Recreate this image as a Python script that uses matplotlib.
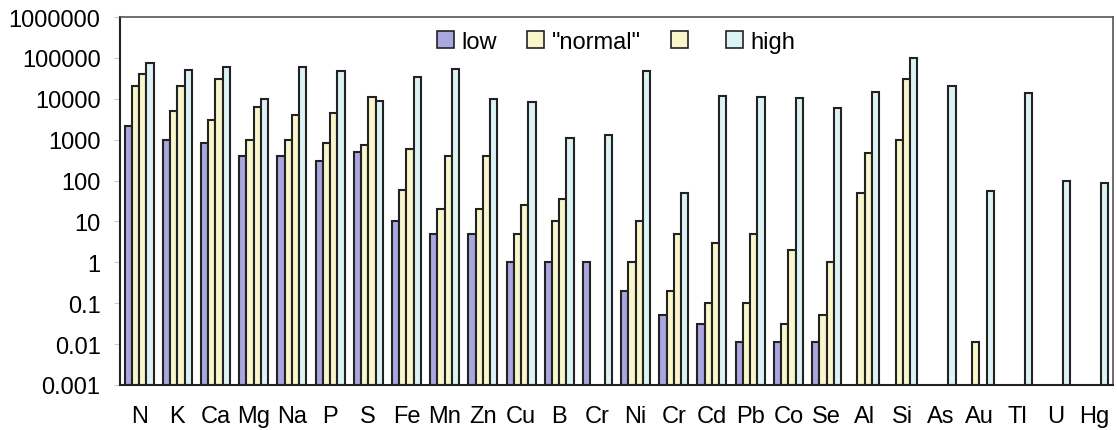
import numpy as np
import matplotlib
matplotlib.use("Agg")
import matplotlib.pyplot as plt
from matplotlib.patches import Patch

categories = ["N", "K", "Ca", "Mg", "Na", "P", "S", "Fe", "Mn", "Zn", "Cu", "B", "Cr",
              "Ni", "Cr", "Cd", "Pb", "Co", "Se", "Al", "Si", "As", "Au", "Tl", "U", "Hg"]
nan = np.nan
low = [2200, 1000, 820, 400, 400, 300, 500, 10, 5, 5, 1, 1, 1,
       0.2, 0.05, 0.03, 0.01, 0.01, 0.01, nan, nan, nan, nan, nan, nan, nan]
normal1 = [20000, 5000, 3000, 1000, 1000, 820, 740, 60, 20, 20, 5, 10, nan,
           1, 0.2, 0.1, 0.1, 0.03, 0.05, 50, 1000, nan, 0.01, nan, nan, nan]
normal2 = [40000, 20000, 30000, 6200, 4000, 4500, 11000, 600, 400, 400, 25, 35, nan,
           10, 5, 3, 5, 2, 1, 460, 30000, nan, nan, nan, nan, nan]
high = [75000, 50000, 60000, 10000, 60000, 48000, 9000, 35000, 55000, 10000, 8500, 1100, 1300,
        48000, 50, 12000, 11000, 10500, 6000, 15000, 100000, 21000, 56, 13500, 100, 87]
series_labels = ["low", '"normal"', "", "high"]
ytick_vals = [0.001, 0.01, 0.1, 1, 10, 100, 1000, 10000, 100000, 1000000]
ytick_labels = ["0.001", "0.01", "0.1", "1", "10", "100", "1000", "10000", "100000", "1000000"]

colors = ["#a9a6e0", "#f9f6cc", "#f9f6cc", "#dcf2f4"]
edge = "#222222"

plt.rcParams['font.family'] = ['Liberation Sans', 'DejaVu Sans']

fig = plt.figure(figsize=(11.17, 4.31), dpi=100)
ax = fig.add_axes([120/1117, 1 - 386/431, 993/1117, 368/431])
ax.set_yscale("log")

x = np.arange(len(categories))
w = 0.19
offsets = [-1.5 * w, -0.5 * w, 0.5 * w, 1.5 * w]
all_series = [low, normal1, normal2, high]
for s, (vals, off, col) in enumerate(zip(all_series, offsets, colors)):
    v = np.array(vals, dtype=float)
    m = ~np.isnan(v)
    ax.bar(x[m] + off, v[m], width=w, bottom=0.001, color=col, edgecolor=edge,
           linewidth=1.5, zorder=2)

ax.set_ylim(0.001, 1000000)
ax.set_xlim(-0.5, len(categories) - 0.5)
ax.set_yticks(ytick_vals)
ax.set_yticklabels(ytick_labels)
ax.yaxis.set_minor_locator(matplotlib.ticker.NullLocator())
ax.set_xticks(x)
ax.set_xticklabels(categories)
ax.tick_params(axis="x", length=0, pad=14.5, labelsize=17)
ax.tick_params(axis="y", length=4, pad=10, labelsize=17, color="#cccccc")

for side in ["left", "bottom"]:
    ax.spines[side].set_color("#222222")
    ax.spines[side].set_linewidth(1.5)
for side in ["top", "right"]:
    ax.spines[side].set_color("#555555")
    ax.spines[side].set_linewidth(1.2)

handles = [Patch(facecolor=c, edgecolor=edge, linewidth=1.2) for c in colors]
fig.legend(handles, series_labels, loc="center", bbox_to_anchor=(616/1117, 1 - 43/431),
           ncol=4, frameon=False, fontsize=17, handlelength=0.72, handleheight=0.72,
           handletextpad=0.3, columnspacing=1.3, borderaxespad=0, borderpad=0)

fig.savefig("out.png", dpi=100)
